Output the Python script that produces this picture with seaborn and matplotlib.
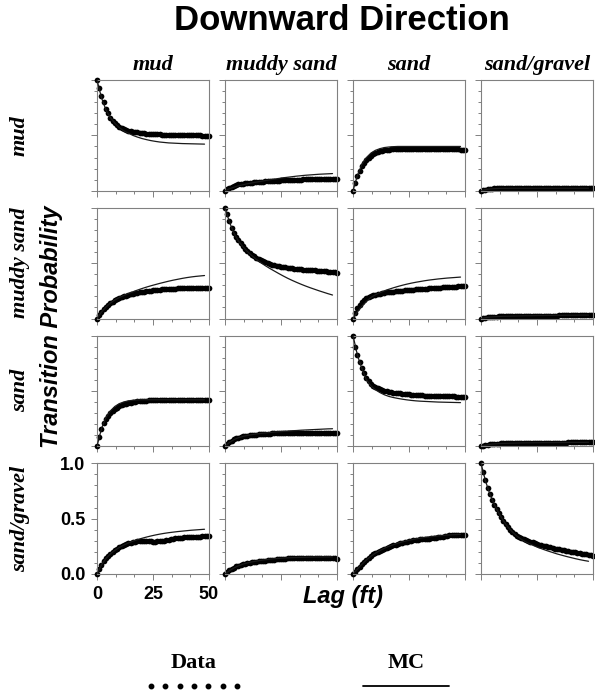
import seaborn as sns
import matplotlib.pyplot as plt
from matplotlib.lines import Line2D
from matplotlib.ticker import MultipleLocator

facies = ["mud", "muddy sand", "sand", "sand/gravel"]
lag = list(range(0, 51))          # data, one value per ft
lag_mc = list(range(0, 49, 2))    # MC model curve
x_ticks = [0, 25, 50]
y_ticks = [0.0, 0.5, 1.0]
x_ticklabels = ["0", "25", "50"]
y_ticklabels = ["0.0", "0.5", "1.0"]

# ---- row "mud" ----
data_mud_mud = [1.00, 0.93, 0.86, 0.80, 0.74, 0.70, 0.66, 0.63, 0.61, 0.59,
                0.575, 0.565, 0.555, 0.548, 0.542, 0.537, 0.533, 0.529, 0.526, 0.523,
                0.52, 0.518, 0.516, 0.514, 0.513, 0.512, 0.51, 0.509, 0.508, 0.507,
                0.506, 0.505, 0.504, 0.503, 0.502, 0.502, 0.501, 0.501, 0.50, 0.50,
                0.50, 0.50, 0.50, 0.50, 0.499, 0.499, 0.499, 0.498, 0.498, 0.498, 0.497]
mc_mud_mud = [1.0, 0.84, 0.73, 0.66, 0.61, 0.57, 0.54, 0.52, 0.50, 0.485, 0.472, 0.462, 0.453,
              0.446, 0.44, 0.436, 0.432, 0.43, 0.428, 0.426, 0.425, 0.424, 0.423, 0.422, 0.421]
data_mud_ms = [0.0, 0.015, 0.028, 0.038, 0.046, 0.052, 0.057, 0.061, 0.064, 0.067,
               0.069, 0.071, 0.073, 0.075, 0.077, 0.079, 0.081, 0.083, 0.085, 0.086,
               0.088, 0.089, 0.09, 0.091, 0.092, 0.093, 0.094, 0.095, 0.096, 0.097,
               0.098, 0.099, 0.1, 0.1, 0.101, 0.102, 0.102, 0.103, 0.103, 0.104,
               0.104, 0.105, 0.105, 0.106, 0.106, 0.106, 0.107, 0.107, 0.107, 0.108, 0.108]
mc_mud_ms = [0.0, 0.018, 0.032, 0.044, 0.054, 0.063, 0.071, 0.078, 0.085, 0.092, 0.099, 0.105, 0.111,
             0.117, 0.122, 0.127, 0.132, 0.136, 0.14, 0.143, 0.146, 0.149, 0.151, 0.153, 0.155]
data_mud_sand = [0.0, 0.07, 0.13, 0.18, 0.22, 0.255, 0.28, 0.30, 0.318, 0.332,
                 0.343, 0.352, 0.358, 0.363, 0.367, 0.37, 0.372, 0.374, 0.375, 0.376,
                 0.377, 0.378, 0.378, 0.378, 0.378, 0.378, 0.378, 0.378, 0.378, 0.378,
                 0.378, 0.378, 0.378, 0.378, 0.378, 0.378, 0.378, 0.378, 0.378, 0.378,
                 0.377, 0.377, 0.376, 0.376, 0.375, 0.375, 0.374, 0.373, 0.372, 0.371, 0.37]
mc_mud_sand = [0.0, 0.14, 0.24, 0.30, 0.34, 0.365, 0.38, 0.39, 0.395, 0.398, 0.40, 0.40, 0.40,
               0.40, 0.40, 0.40, 0.40, 0.40, 0.40, 0.40, 0.40, 0.40, 0.40, 0.40, 0.40]
data_mud_sg = [0.0, 0.006, 0.011, 0.015, 0.018, 0.02, 0.021, 0.022, 0.022, 0.022,
               0.022, 0.022, 0.022, 0.022, 0.022, 0.022, 0.022, 0.022, 0.022, 0.022,
               0.022, 0.022, 0.022, 0.022, 0.022, 0.022, 0.022, 0.022, 0.022, 0.022,
               0.023, 0.023, 0.023, 0.023, 0.023, 0.023, 0.023, 0.023, 0.023, 0.023,
               0.023, 0.023, 0.023, 0.023, 0.023, 0.023, 0.023, 0.023, 0.023, 0.023, 0.023]
mc_mud_sg = [0.0, 0.01, 0.016, 0.019, 0.021, 0.022, 0.022, 0.023, 0.023, 0.023, 0.023, 0.023, 0.023,
             0.023, 0.023, 0.023, 0.023, 0.023, 0.023, 0.023, 0.023, 0.023, 0.023, 0.023, 0.023]

# ---- row "muddy sand" ----
data_ms_mud = [0.0, 0.03, 0.058, 0.083, 0.104, 0.122, 0.138, 0.152, 0.164, 0.175,
               0.184, 0.192, 0.199, 0.206, 0.212, 0.218, 0.223, 0.228, 0.232, 0.236,
               0.24, 0.243, 0.246, 0.249, 0.252, 0.255, 0.257, 0.259, 0.261, 0.263,
               0.264, 0.266, 0.267, 0.268, 0.269, 0.27, 0.271, 0.272, 0.273, 0.273,
               0.274, 0.275, 0.275, 0.276, 0.276, 0.277, 0.277, 0.278, 0.278, 0.279, 0.279]
mc_ms_mud = [0.0, 0.058, 0.104, 0.14, 0.168, 0.19, 0.208, 0.225, 0.241, 0.256, 0.27, 0.283, 0.295,
             0.306, 0.317, 0.327, 0.337, 0.346, 0.354, 0.362, 0.369, 0.375, 0.38, 0.384, 0.388]
data_ms_ms = [1.0, 0.94, 0.88, 0.82, 0.77, 0.735, 0.705, 0.678, 0.653, 0.63,
              0.61, 0.592, 0.575, 0.56, 0.547, 0.535, 0.525, 0.515, 0.507, 0.5,
              0.493, 0.487, 0.482, 0.477, 0.472, 0.468, 0.464, 0.461, 0.458, 0.455,
              0.452, 0.45, 0.448, 0.446, 0.444, 0.442, 0.441, 0.439, 0.438, 0.436,
              0.434, 0.433, 0.431, 0.429, 0.427, 0.425, 0.423, 0.421, 0.419, 0.417, 0.415]
mc_ms_ms = [1.0, 0.87, 0.77, 0.70, 0.648, 0.605, 0.567, 0.534, 0.504, 0.477, 0.452, 0.429, 0.406,
            0.384, 0.363, 0.344, 0.326, 0.309, 0.293, 0.278, 0.264, 0.25, 0.237, 0.224, 0.212]
data_ms_sand = [0.0, 0.05, 0.095, 0.125, 0.15, 0.168, 0.182, 0.193, 0.202, 0.209,
                0.215, 0.22, 0.225, 0.229, 0.233, 0.236, 0.239, 0.241, 0.243, 0.245,
                0.247, 0.249, 0.251, 0.253, 0.255, 0.257, 0.259, 0.261, 0.263, 0.264,
                0.266, 0.267, 0.269, 0.27, 0.272, 0.273, 0.275, 0.276, 0.278, 0.279,
                0.28, 0.282, 0.283, 0.284, 0.286, 0.287, 0.288, 0.29, 0.291, 0.292, 0.294]
mc_ms_sand = [0.0, 0.06, 0.112, 0.155, 0.19, 0.214, 0.233, 0.25, 0.264, 0.277, 0.289, 0.3, 0.31,
              0.319, 0.327, 0.334, 0.341, 0.347, 0.352, 0.357, 0.361, 0.365, 0.368, 0.371, 0.374]
data_ms_sg = [0.0, 0.005, 0.009, 0.012, 0.014, 0.016, 0.017, 0.018, 0.019, 0.02,
              0.02, 0.021, 0.021, 0.022, 0.022, 0.022, 0.023, 0.023, 0.023, 0.024,
              0.024, 0.024, 0.024, 0.025, 0.025, 0.025, 0.025, 0.026, 0.026, 0.026,
              0.026, 0.027, 0.027, 0.027, 0.027, 0.028, 0.028, 0.028, 0.028, 0.028,
              0.029, 0.029, 0.029, 0.029, 0.029, 0.029, 0.03, 0.03, 0.03, 0.03, 0.03]
mc_ms_sg = [0.0, 0.008, 0.013, 0.016, 0.018, 0.02, 0.021, 0.022, 0.023, 0.024, 0.025, 0.025, 0.026,
            0.027, 0.027, 0.028, 0.028, 0.029, 0.029, 0.03, 0.03, 0.03, 0.031, 0.031, 0.031]

# ---- row "sand" ----
data_sand_mud = [0.0, 0.085, 0.155, 0.21, 0.245, 0.275, 0.30, 0.32, 0.335, 0.348,
                 0.36, 0.37, 0.378, 0.385, 0.39, 0.395, 0.399, 0.402, 0.405, 0.408,
                 0.41, 0.412, 0.413, 0.414, 0.415, 0.416, 0.417, 0.417, 0.417, 0.418,
                 0.418, 0.418, 0.418, 0.418, 0.418, 0.418, 0.418, 0.418, 0.418, 0.418,
                 0.418, 0.418, 0.418, 0.418, 0.418, 0.418, 0.418, 0.418, 0.418, 0.418, 0.418]
mc_sand_mud = [0.0, 0.16, 0.26, 0.32, 0.36, 0.385, 0.40, 0.41, 0.415, 0.418, 0.42, 0.42, 0.42,
               0.42, 0.42, 0.42, 0.42, 0.42, 0.42, 0.42, 0.42, 0.42, 0.42, 0.42, 0.42]
data_sand_ms = [0.0, 0.02, 0.037, 0.05, 0.061, 0.07, 0.078, 0.084, 0.089, 0.093,
                0.097, 0.1, 0.102, 0.104, 0.106, 0.108, 0.11, 0.111, 0.113, 0.114,
                0.115, 0.116, 0.117, 0.118, 0.119, 0.12, 0.12, 0.121, 0.121, 0.122,
                0.122, 0.123, 0.123, 0.123, 0.124, 0.124, 0.124, 0.124, 0.124, 0.124,
                0.124, 0.124, 0.123, 0.123, 0.123, 0.122, 0.122, 0.122, 0.121, 0.121, 0.121]
mc_sand_ms = [0.0, 0.035, 0.06, 0.077, 0.089, 0.098, 0.105, 0.111, 0.116, 0.12, 0.124, 0.128, 0.131,
              0.134, 0.137, 0.14, 0.142, 0.145, 0.147, 0.149, 0.151, 0.153, 0.155, 0.157, 0.158]
data_sand_sand = [1.0, 0.90, 0.82, 0.76, 0.71, 0.66, 0.62, 0.59, 0.565, 0.548,
                  0.535, 0.524, 0.515, 0.508, 0.502, 0.497, 0.493, 0.489, 0.485, 0.482,
                  0.479, 0.477, 0.475, 0.473, 0.471, 0.469, 0.467, 0.465, 0.463, 0.462,
                  0.46, 0.459, 0.458, 0.457, 0.456, 0.455, 0.454, 0.453, 0.453, 0.452,
                  0.452, 0.451, 0.451, 0.45, 0.45, 0.45, 0.449, 0.449, 0.449, 0.448, 0.448]
mc_sand_sand = [1.0, 0.82, 0.70, 0.60, 0.545, 0.51, 0.485, 0.465, 0.45, 0.44, 0.432, 0.425, 0.419,
                0.414, 0.41, 0.407, 0.405, 0.403, 0.401, 0.399, 0.398, 0.397, 0.396, 0.395, 0.394]
data_sand_sg = [0.0, 0.006, 0.011, 0.015, 0.018, 0.02, 0.022, 0.023, 0.024, 0.025,
                0.026, 0.026, 0.027, 0.027, 0.028, 0.028, 0.028, 0.029, 0.029, 0.029,
                0.03, 0.03, 0.03, 0.03, 0.031, 0.031, 0.031, 0.031, 0.032, 0.032,
                0.032, 0.032, 0.032, 0.033, 0.033, 0.033, 0.033, 0.033, 0.033, 0.034,
                0.034, 0.034, 0.034, 0.034, 0.034, 0.034, 0.035, 0.035, 0.035, 0.035, 0.035]
mc_sand_sg = [0.0, 0.01, 0.017, 0.021, 0.024, 0.026, 0.027, 0.028, 0.029, 0.03, 0.031, 0.031, 0.032,
              0.032, 0.033, 0.033, 0.033, 0.034, 0.034, 0.034, 0.035, 0.035, 0.035, 0.035, 0.036]

# ---- row "sand/gravel" ----
data_sg_mud = [0.0, 0.045, 0.085, 0.115, 0.14, 0.162, 0.182, 0.199, 0.214, 0.228,
               0.24, 0.251, 0.261, 0.27, 0.277, 0.283, 0.288, 0.292, 0.295, 0.297,
               0.298, 0.298, 0.297, 0.296, 0.294, 0.293, 0.293, 0.294, 0.296, 0.299,
               0.302, 0.306, 0.31, 0.314, 0.318, 0.322, 0.325, 0.327, 0.329, 0.33,
               0.33, 0.33, 0.33, 0.331, 0.333, 0.336, 0.338, 0.34, 0.342, 0.344, 0.346]
mc_sg_mud = [0.0, 0.083, 0.14, 0.182, 0.214, 0.24, 0.262, 0.28, 0.296, 0.31, 0.322, 0.333, 0.343,
             0.352, 0.36, 0.367, 0.373, 0.378, 0.383, 0.387, 0.391, 0.395, 0.398, 0.401, 0.404]
data_sg_ms = [0.0, 0.018, 0.034, 0.047, 0.058, 0.068, 0.076, 0.083, 0.089, 0.094,
              0.098, 0.102, 0.105, 0.108, 0.111, 0.114, 0.116, 0.119, 0.121, 0.124,
              0.126, 0.128, 0.13, 0.132, 0.134, 0.136, 0.138, 0.139, 0.141, 0.142,
              0.143, 0.144, 0.145, 0.145, 0.146, 0.146, 0.146, 0.146, 0.146, 0.146,
              0.146, 0.146, 0.145, 0.145, 0.144, 0.143, 0.142, 0.141, 0.14, 0.14, 0.139]
mc_sg_ms = [0.0, 0.03, 0.055, 0.074, 0.089, 0.1, 0.109, 0.117, 0.123, 0.129, 0.134, 0.138, 0.141,
            0.144, 0.146, 0.148, 0.149, 0.15, 0.151, 0.152, 0.153, 0.153, 0.154, 0.154, 0.155]
data_sg_sand = [0.0, 0.022, 0.044, 0.066, 0.087, 0.107, 0.127, 0.145, 0.162, 0.177,
                0.19, 0.201, 0.21, 0.219, 0.228, 0.236, 0.244, 0.251, 0.258, 0.265,
                0.271, 0.277, 0.282, 0.287, 0.292, 0.296, 0.3, 0.303, 0.306, 0.309,
                0.312, 0.314, 0.316, 0.318, 0.32, 0.322, 0.324, 0.327, 0.33, 0.333,
                0.337, 0.341, 0.345, 0.348, 0.351, 0.352, 0.353, 0.353, 0.353, 0.352, 0.352]
mc_sg_sand = [0.0, 0.045, 0.088, 0.127, 0.16, 0.188, 0.212, 0.232, 0.25, 0.265, 0.278, 0.29, 0.3,
              0.309, 0.317, 0.324, 0.33, 0.335, 0.34, 0.344, 0.348, 0.351, 0.354, 0.356, 0.358]
data_sg_sg = [1.0, 0.92, 0.845, 0.775, 0.72, 0.67, 0.625, 0.585, 0.548, 0.513,
              0.48, 0.452, 0.425, 0.401, 0.38, 0.362, 0.347, 0.334, 0.323, 0.314,
              0.306, 0.299, 0.292, 0.285, 0.279, 0.272, 0.266, 0.26, 0.255, 0.25,
              0.245, 0.24, 0.235, 0.23, 0.226, 0.222, 0.218, 0.214, 0.21, 0.206,
              0.202, 0.199, 0.195, 0.192, 0.189, 0.185, 0.182, 0.178, 0.175, 0.17, 0.166]
mc_sg_sg = [1.0, 0.84, 0.72, 0.625, 0.548, 0.48, 0.425, 0.38, 0.343, 0.313, 0.29, 0.27, 0.252,
            0.236, 0.221, 0.207, 0.194, 0.181, 0.17, 0.159, 0.149, 0.139, 0.13, 0.122, 0.115]

data_rows = [[data_mud_mud, data_mud_ms, data_mud_sand, data_mud_sg],
             [data_ms_mud, data_ms_ms, data_ms_sand, data_ms_sg],
             [data_sand_mud, data_sand_ms, data_sand_sand, data_sand_sg],
             [data_sg_mud, data_sg_ms, data_sg_sand, data_sg_sg]]
mc_rows = [[mc_mud_mud, mc_mud_ms, mc_mud_sand, mc_mud_sg],
           [mc_ms_mud, mc_ms_ms, mc_ms_sand, mc_ms_sg],
           [mc_sand_mud, mc_sand_ms, mc_sand_sand, mc_sand_sg],
           [mc_sg_mud, mc_sg_ms, mc_sg_sand, mc_sg_sg]]

sns.set_style("ticks")
plt.rcParams["font.family"] = ["Liberation Sans", "DejaVu Sans"]
plt.rcParams["text.color"] = "black"
plt.rcParams["xtick.labelcolor"] = "black"
plt.rcParams["ytick.labelcolor"] = "black"

W, H = 595, 698
fig, axes = plt.subplots(4, 4, figsize=(W / 100, H / 100), dpi=100)
fig.subplots_adjust(left=97 / W, right=593 / W, top=1 - 80 / H, bottom=1 - 574 / H,
                    wspace=16 / 112, hspace=17 / 110.75)

grey = "#808080"
serif = dict(family="Liberation Serif", weight="bold", style="italic", size=16)

for i in range(4):
    for j in range(4):
        ax = axes[i, j]
        sns.scatterplot(x=lag, y=data_rows[i][j], ax=ax, color="black", s=17,
                        linewidth=0, clip_on=False, zorder=2)
        sns.lineplot(x=lag_mc, y=mc_rows[i][j], ax=ax, color="#1a1a1a",
                     linewidth=0.9, errorbar=None, zorder=3)
        ax.set_xlim(0, 50)
        ax.set_ylim(0, 1)
        ax.set_xlabel("")
        ax.set_ylabel("")
        ax.set_xticks(x_ticks)
        ax.set_yticks(y_ticks)
        ax.xaxis.set_minor_locator(MultipleLocator(25 / 3))
        ax.yaxis.set_minor_locator(MultipleLocator(0.1))
        ax.tick_params(which="major", length=4.5, width=0.7, color=grey, direction="out", pad=4)
        ax.tick_params(which="minor", length=2.2, width=0.7, color=grey, direction="out")
        for sp in ax.spines.values():
            sp.set_color(grey)
            sp.set_linewidth(0.8)
        if i == 3 and j == 0:
            ax.set_xticks(x_ticks, labels=x_ticklabels, fontsize=13, fontweight="bold")
            ax.set_yticks(y_ticks, labels=y_ticklabels, fontsize=13, fontweight="bold")
        else:
            ax.tick_params(labelleft=False, labelbottom=False)

# column titles and row labels
for j, name in enumerate(facies):
    pos = axes[0, j].get_position()
    fig.text((pos.x0 + pos.x1) / 2, 1 - 70 / H, name, ha="center", va="baseline", **serif)
for i, name in enumerate(facies):
    pos = axes[i, 0].get_position()
    fig.text(25 / W, (pos.y0 + pos.y1) / 2, name, rotation=90, rotation_mode="anchor",
             ha="center", va="baseline", **serif)

top = axes[0, 0].get_position().y1
bot = axes[3, 0].get_position().y0
fig.text(58 / W, (top + bot) / 2, "Transition Probability", rotation=90, rotation_mode="anchor",
         ha="center", va="baseline", fontsize=17, fontweight="bold", fontstyle="italic")
fig.text(343 / W, 1 - 603 / H, "Lag (ft)", ha="center", va="baseline",
         fontsize=17, fontweight="bold", fontstyle="italic")
fig.text(342 / W, 1 - 30 / H, "Downward Direction", ha="center", va="baseline",
         fontsize=25, fontweight="bold")

# legend
title_font = dict(family="Liberation Serif", weight="bold", size=16)
h_data = Line2D([], [], linestyle="none", marker="o", markersize=3.2, color="black")
h_mc = Line2D([], [], color="black", linewidth=1.3)
fig.legend([h_data], [""], title="Data", loc="center", bbox_to_anchor=(194 / W, 1 - 676 / H),
           frameon=False, numpoints=7, handlelength=4.5, handletextpad=0, labelspacing=0.2,
           fontsize=16, title_fontproperties=title_font)
fig.legend([h_mc], [""], title="MC", loc="center", bbox_to_anchor=(406 / W, 1 - 676 / H),
           frameon=False, numpoints=1, handlelength=3.9, handletextpad=0, labelspacing=0.2,
           fontsize=16, title_fontproperties=title_font)

fig.savefig("out.png", dpi=100)
